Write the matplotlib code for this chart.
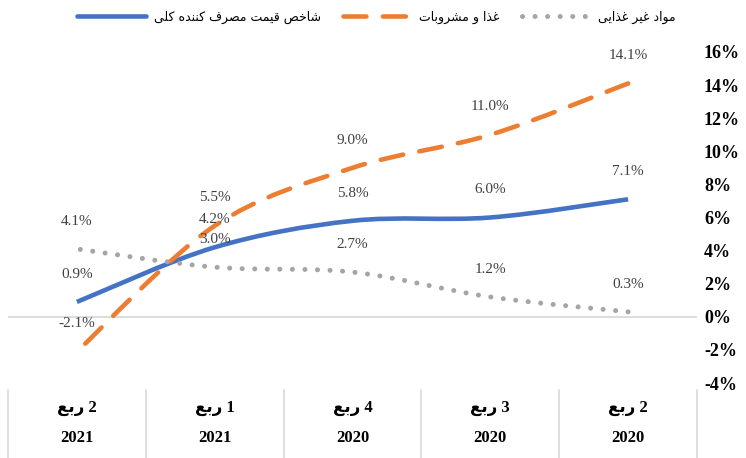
"""
Persian CPI chart: quarterly inflation, total / food / non-food.
"""
import matplotlib
matplotlib.use('Agg')
import matplotlib.pyplot as plt
from matplotlib.path import Path
from matplotlib.patches import PathPatch
from matplotlib.lines import Line2D
from matplotlib.transforms import blended_transform_factory

# data, ordered from right-most category (2020 Q2) to left-most (2021 Q2)
quarter_word = 'ربع'
quarter_nums = ['2', '3', '4', '1', '2']
years = ['2020', '2020', '2020', '2021', '2021']
cpi_total = [7.1, 6.0, 5.8, 4.2, 0.9]
food_drinks = [14.1, 11.0, 9.0, 5.5, -2.1]
non_food = [0.3, 1.2, 2.7, 3.0, 4.1]
series_names = ['شاخص قیمت مصرف کننده کلی', 'غذا و مشروبات', 'مواد غیر غذایی']
y_ticks = list(range(-4, 17, 2))

# minimal Persian shaping: (isolated, final, initial, medial)
FORMS = {
    'ا': ('\uFE8D', '\uFE8E', None, None),
    'ب': ('\uFE8F', '\uFE90', '\uFE91', '\uFE92'),
    'ت': ('\uFE95', '\uFE96', '\uFE97', '\uFE98'),
    'خ': ('\uFEA5', '\uFEA6', '\uFEA7', '\uFEA8'),
    'د': ('\uFEA9', '\uFEAA', None, None),
    'ذ': ('\uFEAB', '\uFEAC', None, None),
    'ر': ('\uFEAD', '\uFEAE', None, None),
    'ش': ('\uFEB5', '\uFEB6', '\uFEB7', '\uFEB8'),
    'ص': ('\uFEB9', '\uFEBA', '\uFEBB', '\uFEBC'),
    'ع': ('\uFEC9', '\uFECA', '\uFECB', '\uFECC'),
    'غ': ('\uFECD', '\uFECE', '\uFECF', '\uFED0'),
    'ف': ('\uFED1', '\uFED2', '\uFED3', '\uFED4'),
    'ق': ('\uFED5', '\uFED6', '\uFED7', '\uFED8'),
    'ل': ('\uFEDD', '\uFEDE', '\uFEDF', '\uFEE0'),
    'م': ('\uFEE1', '\uFEE2', '\uFEE3', '\uFEE4'),
    'ن': ('\uFEE5', '\uFEE6', '\uFEE7', '\uFEE8'),
    'ه': ('\uFEE9', '\uFEEA', '\uFEEB', '\uFEEC'),
    'و': ('\uFEED', '\uFEEE', None, None),
    'ک': ('\uFB8E', '\uFB8F', '\uFB90', '\uFB91'),
    'ی': ('\uFBFC', '\uFBFD', '\uFBFE', '\uFBFF'),
}


def shape(text):
    out = []
    for i, ch in enumerate(text):
        if ch not in FORMS:
            out.append(ch)
            continue
        iso, fin, ini, med = FORMS[ch]
        prev = text[i - 1] if i > 0 else ''
        nxt = text[i + 1] if i + 1 < len(text) else ''
        join_prev = prev in FORMS and FORMS[prev][2] is not None
        join_next = ini is not None and nxt in FORMS
        if join_prev and join_next:
            out.append(med)
        elif join_prev:
            out.append(fin)
        elif join_next:
            out.append(ini)
        else:
            out.append(iso)
    return ''.join(reversed(out))


def smooth_path(xs, ys):
    # Catmull-Rom through the points, drawn as cubic Bezier segments
    pts = list(zip(xs, ys))
    verts = [pts[0]]
    codes = [Path.MOVETO]
    n = len(pts)
    for i in range(n - 1):
        p0 = pts[max(i - 1, 0)]
        p1 = pts[i]
        p2 = pts[i + 1]
        p3 = pts[min(i + 2, n - 1)]
        c1 = (p1[0] + (p2[0] - p0[0]) / 6, p1[1] + (p2[1] - p0[1]) / 6)
        c2 = (p2[0] - (p3[0] - p1[0]) / 6, p2[1] - (p3[1] - p1[1]) / 6)
        verts += [c1, c2, p2]
        codes += [Path.CURVE4] * 3
    return Path(verts, codes)


def main():
    serif = ['Liberation Serif', 'DejaVu Serif']
    fig = plt.figure(figsize=(7.46, 4.58), dpi=100)
    ax = fig.add_axes([8 / 746, 1 - 383 / 458, 689 / 746, 331 / 458])

    x = list(range(len(years)))
    styles = [
        (cpi_total, '#4472C4', '-', 3.3, 'butt'),
        (food_drinks, '#ED7D31', (0, (5.0, 3.6)), 3.3, 'round'),
        (non_food, '#A5A5A5', (0, (0.01, 2.5)), 3.6, 'round'),
    ]
    handles = []
    for vals, color, ls, lw, cap in styles:
        patch = PathPatch(smooth_path(x, vals), fill=False, edgecolor=color,
                          linestyle=ls, linewidth=lw, zorder=3)
        patch.set_capstyle(cap)
        ax.add_patch(patch)
        h = Line2D([], [], color=color, linestyle=ls, linewidth=lw,
                   solid_capstyle='round', dash_capstyle='round')
        handles.append(h)
        for xi, v in zip(x, vals):
            ax.annotate(f'{v:.1f}%', (xi, v), xytext=(0, 20),
                        textcoords='offset points', ha='center', va='center',
                        fontsize=11, color='#404040', family=serif, zorder=4)

    ax.axhline(0, color='#D9D9D9', lw=1.3, zorder=1)
    ax.set_xlim(-0.5, len(years) - 0.5)
    ax.invert_xaxis()
    ax.set_ylim(-4, 16)
    ax.set_xticks([])
    ax.yaxis.tick_right()
    ax.set_yticks(y_ticks)
    ax.set_yticklabels([f'{t}%' for t in y_ticks], family=serif,
                       fontweight='bold', fontsize=13)
    ax.tick_params(axis='y', length=0, pad=5)
    for s in ax.spines.values():
        s.set_visible(False)

    # multi-level category axis below the plot
    tr = blended_transform_factory(ax.transData, ax.transAxes)
    for xi, qn, yr in zip(x, quarter_nums, years):
        ax.text(xi, -0.075, shape(quarter_word) + ' ' + qn, transform=tr,
                ha='center', va='center', fontsize=12, fontweight='bold',
                family=serif + ['DejaVu Sans'])
        ax.text(xi, -0.166, yr, transform=tr, ha='center', va='center',
                fontsize=12, fontweight='bold', family=serif)
    for b in [i - 0.5 for i in range(len(years) + 1)]:
        ax.plot([b, b], [-0.02, -0.24], transform=tr, color='#D9D9D9',
                lw=1.2, clip_on=False)

    fig.legend(handles, [shape(n) for n in series_names], loc='center',
               bbox_to_anchor=(0.505, 0.962), ncol=3, frameon=False,
               handlelength=5.5, columnspacing=1.8, handletextpad=0.6,
               prop={'family': 'DejaVu Sans', 'size': 9})

    fig.savefig('out.png', dpi=100)
    plt.close(fig)


if __name__ == "__main__":
    main()
